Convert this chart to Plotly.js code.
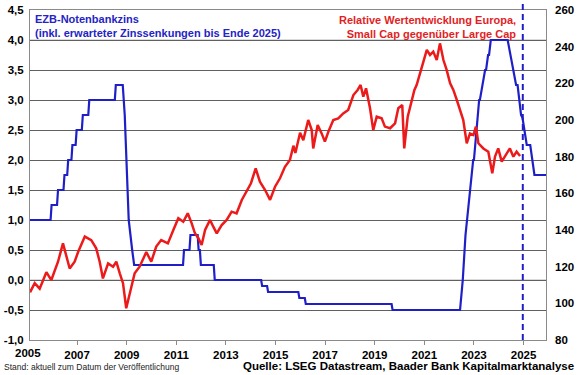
<!DOCTYPE html>
<html>
<head>
<meta charset="utf-8">
<script src="https://cdn.plot.ly/plotly-3.0.1.min.js"></script>
<style>html,body{margin:0;padding:0;background:#fff;}#chart{width:580px;height:375px;}</style>
</head>
<body>
<div id="chart"></div>
<script>
// ECB deposit rate (left axis, %), incl. expected cuts to end of 2025
var rateYears = [2005.10,2005.93,2005.97,2006.19,2006.23,2006.45,2006.49,2006.60,2006.64,2006.77,2006.81,2006.94,2006.98,2007.19,2007.23,2007.45,2007.49,2008.52,2008.56,2008.84,2008.92,2009.00,2009.08,2009.22,2009.30,2011.27,2011.31,2011.53,2011.57,2011.86,2011.90,2011.95,2011.99,2012.51,2012.55,2014.42,2014.46,2014.66,2014.70,2015.92,2015.96,2016.18,2016.22,2019.68,2019.72,2022.44,2022.55,2022.66,2022.83,2022.86,2022.97,2023.00,2023.10,2023.13,2023.21,2023.24,2023.34,2023.37,2023.45,2023.49,2023.57,2023.61,2023.68,2024.36,2024.47,2024.70,2024.76,2024.90,2024.96,2025.13,2025.27,2025.44,2025.93];
var rateValues = [1.00,1.00,1.25,1.25,1.50,1.50,1.75,1.75,2.00,2.00,2.25,2.25,2.50,2.50,2.75,2.75,3.00,3.00,3.25,3.25,2.75,2.00,1.00,0.50,0.25,0.25,0.50,0.50,0.75,0.75,0.50,0.50,0.25,0.25,0.00,0.00,-0.10,-0.10,-0.20,-0.20,-0.30,-0.30,-0.40,-0.40,-0.50,-0.50,0.00,0.75,1.50,1.50,2.00,2.00,2.50,2.50,3.00,3.00,3.25,3.25,3.50,3.50,3.75,3.75,4.00,4.00,3.75,3.25,3.25,2.75,2.70,2.25,2.25,1.75,1.75];

// Relative performance Europe, Small Cap vs Large Cap (right axis)
var relYears = [2005.10,2005.29,2005.49,2005.76,2005.96,2006.23,2006.43,2006.56,2006.70,2006.90,2007.04,2007.31,2007.57,2007.77,2007.91,2008.04,2008.25,2008.45,2008.58,2008.72,2008.85,2008.98,2009.12,2009.32,2009.52,2009.79,2009.99,2010.19,2010.39,2010.66,2010.88,2011.08,2011.28,2011.46,2011.62,2011.75,2011.89,2012.02,2012.16,2012.36,2012.49,2012.63,2012.83,2013.03,2013.23,2013.43,2013.64,2013.84,2014.01,2014.20,2014.37,2014.58,2014.78,2014.98,2015.18,2015.38,2015.58,2015.72,2015.80,2015.99,2016.12,2016.32,2016.46,2016.52,2016.70,2016.86,2016.99,2017.13,2017.33,2017.53,2017.73,2017.93,2018.14,2018.31,2018.43,2018.54,2018.65,2018.81,2018.94,2019.08,2019.28,2019.41,2019.62,2019.82,2019.95,2020.11,2020.19,2020.33,2020.42,2020.60,2020.69,2020.83,2020.96,2021.10,2021.23,2021.36,2021.50,2021.63,2021.77,2021.90,2022.04,2022.17,2022.31,2022.44,2022.57,2022.71,2022.84,2022.98,2023.08,2023.18,2023.38,2023.58,2023.74,2023.85,2023.98,2024.12,2024.25,2024.45,2024.59,2024.72,2024.86];
var relValues = [106,111,108,117,112.7,122.7,132.7,125.5,119,122.7,128,136.4,134.5,130,122.7,113.6,121.8,120,122.7,116.4,111,97.3,105.5,116.4,120,128,122.7,131,134.5,132.7,140,146.4,144.5,149.1,143.6,138.2,135.5,131.8,140,145.5,141.8,138.2,142.7,145.5,150,149.1,156.4,161,165.5,173.6,166.4,161.8,156.4,163.6,168.2,174.5,178.2,186,182,193,189,200,194.5,184.5,197.3,192.7,188.2,193.6,200,200.9,203.6,205.5,213.6,216.4,219.1,212.7,217.3,206.4,194.5,201.8,200.9,196.4,195.5,198.2,206.4,208.2,184.5,201.8,206.4,216.4,219.1,225.5,232.7,238.2,235.5,237.3,232.7,241.8,232.7,227.3,220,216.4,210.9,205.5,200,187.3,192.7,191.8,196.4,187.3,184.5,182.7,170.9,180,184.5,177.3,180,184.5,180,182.7,180.4];

var leftTickVals = [-1.0,-0.5,0.0,0.5,1.0,1.5,2.0,2.5,3.0,3.5,4.0,4.5];
var leftTickText = ["-1,0","-0,5","0,0","0,5","1,0","1,5","2,0","2,5","3,0","3,5","4,0","4,5"];
var rightTickVals = [80,100,120,140,160,180,200,220,240,260];
var xTickVals = [2007,2009,2011,2013,2015,2017,2019,2021,2023,2025];
var firstYearLabel = "2005";
var todayMarker = 2024.97;

var xRange = [2005.1, 2025.906];
var FONT = "Liberation Sans, Arial, sans-serif";

var traces = [
  {x: rateYears, y: rateValues, type: "scatter", mode: "lines", yaxis: "y",
   line: {color: "#1f1fc8", width: 2.2}, hoverinfo: "skip"},
  {x: relYears, y: relValues, type: "scatter", mode: "lines", yaxis: "y2",
   line: {color: "#ec1a1a", width: 2.5}, hoverinfo: "skip"}
];

function paperX(yr){ return (yr - xRange[0]) / (xRange[1] - xRange[0]); }

var layout = {
  width: 580, height: 375,
  margin: {l: 30, r: 34, t: 10, b: 35},
  paper_bgcolor: "#ffffff", plot_bgcolor: "#ffffff",
  showlegend: false,
  separators: ",.",
  font: {family: FONT, size: 11, color: "#000"},
  xaxis: {
    range: xRange, tickvals: xTickVals, ticktext: xTickVals.map(String),
    showgrid: false, zeroline: false,
    showline: true, mirror: true, linecolor: "#8a8a8a", linewidth: 1,
    ticks: "outside", ticklen: 4, tickcolor: "#8a8a8a",
    tickfont: {family: FONT, size: 11.5, color: "#000", weight: "bold"}
  },
  yaxis: {
    range: [-1, 4.5], tickvals: leftTickVals, ticktext: leftTickText,
    showgrid: true, gridcolor: "#606060", gridwidth: 1, zeroline: false,
    showline: true, mirror: true, linecolor: "#8a8a8a", linewidth: 1,
    ticks: "", ticklabelstandoff: 3,
    tickfont: {family: FONT, size: 11.5, color: "#000", weight: "bold"}
  },
  yaxis2: {
    range: [80, 260], tickvals: rightTickVals, overlaying: "y", side: "right",
    showgrid: false, zeroline: false, showline: false, ticks: "",
    ticklabelstandoff: 8,
    tickfont: {family: FONT, size: 11.5, color: "#000", weight: "bold"}
  },
  shapes: [
    {type: "line", xref: "paper", yref: "y", x0: 0, x1: 1, y0: 0, y1: 0, line: {color: "#b4b4b4", width: 1}, layer: "below"},
    {type: "line", xref: "paper", yref: "y", x0: 0, x1: 1, y0: 4, y1: 4, line: {color: "#b4b4b4", width: 1}, layer: "below"},
    {type: "line", xref: "x", yref: "paper", x0: todayMarker, x1: todayMarker, y0: 0, y1: 1.024, line: {color: "#1f1fc8", width: 2, dash: "6px,4px"}}
  ],
  annotations: [
    {xref: "paper", yref: "paper", x: 0, y: 1, xanchor: "left", yanchor: "top", xshift: 3, yshift: -1,
     align: "left", showarrow: false,
     text: "<b>EZB-Notenbankzins<br>(inkl. erwarteter Zinssenkungen bis Ende 2025)</b>",
     font: {family: FONT, size: 11, color: "#2424c4"}},
    {xref: "paper", yref: "paper", x: (518 - 30) / 516, y: 1, xanchor: "right", yanchor: "top", yshift: -2,
     align: "right", showarrow: false,
     text: "<b>Relative Wertentwicklung Europa,<br>Small Cap gegenüber Large Cap</b>",
     font: {family: FONT, size: 11, color: "#e31e24"}},
    {xref: "paper", yref: "paper", x: paperX(2005), y: 0, yanchor: "top", xanchor: "center", yshift: -5,
     showarrow: false, text: "<b>" + firstYearLabel + "</b>",
     font: {family: FONT, size: 11.5, color: "#000"}},
    {xref: "paper", yref: "paper", x: (2 - 30) / 516, y: (340 - 367) / 330, xanchor: "left", yanchor: "middle",
     showarrow: false, text: "Stand: aktuell zum Datum der Veröffentlichung",
     font: {family: FONT, size: 8.5, color: "#222"}},
    {xref: "paper", yref: "paper", x: (576 - 30) / 516, y: (340 - 366) / 330, xanchor: "right", yanchor: "middle",
     showarrow: false, text: "<b>Quelle: LSEG Datastream, Baader Bank Kapitalmarktanalyse</b>",
     font: {family: FONT, size: 11.5, color: "#000"}}
  ]
};

Plotly.newPlot("chart", traces, layout, {staticPlot: true, displayModeBar: false});
</script>
</body>
</html>
